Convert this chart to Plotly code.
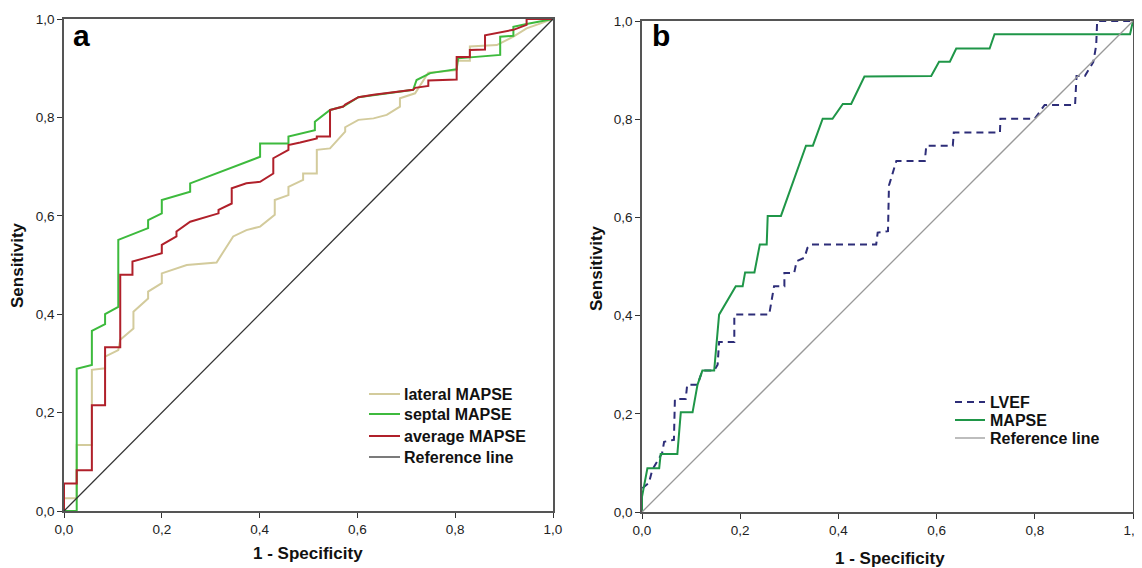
import plotly.graph_objects as go

# ---------------- data ----------------
tick_vals = [0, 0.2, 0.4, 0.6, 0.8, 1.0]
tick_text = ["0,0", "0,2", "0,4", "0,6", "0,8", "1,0"]

# Panel a
lateral_x = [0, 0, 0.026, 0.026, 0.057, 0.057, 0.084, 0.084, 0.111, 0.115, 0.142, 0.142, 0.172, 0.172,
             0.2, 0.2, 0.251, 0.312, 0.326, 0.346, 0.373, 0.401, 0.431, 0.431, 0.459, 0.459, 0.489, 0.489,
             0.517, 0.517, 0.544, 0.575, 0.575, 0.602, 0.633, 0.66, 0.687, 0.687, 0.718, 0.745, 0.803,
             0.803, 0.83, 0.83, 0.885, 0.919, 0.946, 0.973, 1.0]
lateral_y = [0, 0.026, 0.026, 0.134, 0.134, 0.287, 0.29, 0.314, 0.327, 0.348, 0.371, 0.405, 0.432, 0.446,
             0.463, 0.483, 0.5, 0.505, 0.527, 0.558, 0.571, 0.578, 0.602, 0.632, 0.642, 0.659, 0.673, 0.686,
             0.686, 0.734, 0.737, 0.771, 0.78, 0.795, 0.798, 0.805, 0.822, 0.839, 0.849, 0.891, 0.896,
             0.915, 0.915, 0.944, 0.947, 0.964, 0.981, 0.991, 1.0]

septal_x = [0, 0.026, 0.026, 0.057, 0.057, 0.084, 0.084, 0.111, 0.111, 0.172, 0.172, 0.2, 0.2, 0.258,
            0.258, 0.401, 0.401, 0.459, 0.459, 0.503, 0.513, 0.513, 0.544, 0.571, 0.602, 0.714, 0.721,
            0.749, 0.803, 0.806, 0.892, 0.892, 0.919, 0.919, 0.946, 1.0]
septal_y = [0, 0, 0.289, 0.297, 0.366, 0.38, 0.40, 0.415, 0.551, 0.575, 0.591, 0.605, 0.632, 0.649,
            0.666, 0.72, 0.747, 0.747, 0.761, 0.771, 0.774, 0.791, 0.815, 0.822, 0.841, 0.856, 0.876,
            0.89, 0.898, 0.92, 0.927, 0.964, 0.966, 0.984, 0.99, 1.0]

average_x = [0, 0, 0.026, 0.026, 0.057, 0.057, 0.084, 0.084, 0.115, 0.115, 0.14, 0.14, 0.176, 0.2, 0.2,
             0.23, 0.23, 0.258, 0.316, 0.316, 0.343, 0.343, 0.373, 0.401, 0.428, 0.428, 0.459, 0.459,
             0.483, 0.517, 0.517, 0.544, 0.544, 0.571, 0.575, 0.602, 0.633, 0.714, 0.718, 0.745, 0.745,
             0.803, 0.803, 0.83, 0.83, 0.861, 0.861, 0.919, 0.946, 0.946, 1.0]
average_y = [0, 0.056, 0.056, 0.083, 0.083, 0.215, 0.215, 0.333, 0.333, 0.48, 0.48, 0.507, 0.517, 0.524,
             0.541, 0.558, 0.568, 0.588, 0.605, 0.612, 0.625, 0.656, 0.666, 0.669, 0.686, 0.717, 0.734,
             0.744, 0.749, 0.757, 0.761, 0.761, 0.815, 0.822, 0.826, 0.841, 0.846, 0.856, 0.86, 0.864,
             0.875, 0.877, 0.923, 0.923, 0.937, 0.938, 0.967, 0.978, 0.988, 1.0, 1.0]

# Panel b
mapse_x = [0, 0, 0.011, 0.035, 0.038, 0.072, 0.079, 0.103, 0.113, 0.123, 0.147, 0.157, 0.191, 0.205,
           0.21, 0.229, 0.24, 0.254, 0.256, 0.283, 0.334, 0.348, 0.368, 0.388, 0.409, 0.426, 0.453,
           0.589, 0.605, 0.627, 0.64, 0.708, 0.718, 0.994, 1.0]
mapse_y = [0, 0.031, 0.089, 0.089, 0.118, 0.118, 0.203, 0.203, 0.259, 0.288, 0.288, 0.402, 0.46, 0.46,
           0.488, 0.488, 0.545, 0.545, 0.603, 0.603, 0.746, 0.746, 0.801, 0.801, 0.831, 0.831, 0.887,
           0.888, 0.917, 0.917, 0.944, 0.944, 0.973, 0.973, 1.0]

lvef_x = [0, 0, 0.014, 0.021, 0.041, 0.045, 0.065, 0.067, 0.089, 0.092, 0.113, 0.123, 0.147, 0.154,
          0.157, 0.188, 0.188, 0.259, 0.269, 0.29, 0.29, 0.31, 0.315, 0.331, 0.337, 0.344, 0.477, 0.48,
          0.501, 0.503, 0.518, 0.576, 0.579, 0.633, 0.635, 0.729, 0.73, 0.8, 0.82, 0.882, 0.885, 0.902,
          0.919, 0.925, 0.927, 1.0]
lvef_y = [0, 0.048, 0.059, 0.086, 0.12, 0.143, 0.147, 0.23, 0.23, 0.259, 0.259, 0.288, 0.288, 0.3,
          0.346, 0.346, 0.402, 0.402, 0.46, 0.46, 0.487, 0.487, 0.511, 0.518, 0.538, 0.545, 0.545, 0.569,
          0.572, 0.665, 0.715, 0.715, 0.746, 0.746, 0.773, 0.773, 0.801, 0.801, 0.829, 0.829, 0.888,
          0.888, 0.916, 0.95, 1.0, 1.0]

ref_x = [0, 1]
ref_y = [0, 1]

# ---------------- figure ----------------
# the page body has an 8px margin, so the figure is drawn 8px in from the top-left corner
OFF = 8
W, H = 1142 - OFF, 568 - OFF
FONT = "Arial, Liberation Sans, sans-serif"


def px_x(p):
    # p: x position in the 1142-wide screenshot
    return (p - OFF) / W


def px_y(p):
    # p: y position in the 568-high screenshot
    return 1 - (p - OFF) / H


series = [
    # name, x, y, colour, width, dash, panel
    ("lateral MAPSE", lateral_x, lateral_y, "#d3cb9c", 2, "solid", "a"),
    ("septal MAPSE", septal_x, septal_y, "#3dba3d", 2, "solid", "a"),
    ("average MAPSE", average_x, average_y, "#b0202a", 2, "solid", "a"),
    ("Reference line", ref_x, ref_y, "#333333", 1.3, "solid", "a"),
    ("LVEF", lvef_x, lvef_y, "#2d2d78", 2, "7px,5px", "b"),
    ("MAPSE", mapse_x, mapse_y, "#1f9648", 2, "solid", "b"),
    ("Reference line", ref_x, ref_y, "#999999", 1.3, "solid", "b"),
]

fig = go.Figure()
for name, xs, ys, col, lw, dash, panel in series:
    fig.add_trace(go.Scatter(x=xs, y=ys, mode="lines", name=name,
                             line=dict(color=col, width=lw, dash=dash),
                             xaxis="x" if panel == "a" else "x2",
                             yaxis="y" if panel == "a" else "y2",
                             showlegend=False))

axis_common = dict(range=[0, 1], tickvals=tick_vals, ticktext=tick_text, ticks="outside", ticklen=5,
                   tickwidth=1.3, tickcolor="#333", showline=True, linecolor="#555", linewidth=1.5,
                   mirror=True, showgrid=False, zeroline=False, automargin=False,
                   ticklabeloverflow="allow",
                   tickfont=dict(family=FONT, size=13.5, color="#222"))

fig.update_layout(
    width=W, height=H,
    margin=dict(l=0, r=0, t=0, b=0, pad=0, autoexpand=False),
    paper_bgcolor="white", plot_bgcolor="white",
    font=dict(family=FONT),
    xaxis=dict(domain=[px_x(64), px_x(553)], anchor="y", **axis_common),
    yaxis=dict(domain=[px_y(511), px_y(19)], anchor="x", **axis_common),
    xaxis2=dict(domain=[px_x(642), px_x(1133)], anchor="y2", **axis_common),
    yaxis2=dict(domain=[px_y(512), px_y(21)], anchor="x2", **axis_common),
    showlegend=False,
)

# legends (drawn as line samples + text so the row spacing matches the original)
legend_rows_a = [394, 414, 436, 457]
legend_rows_b = [402, 420, 438]
shapes = []
annotations = []
leg_a = [s for s in series if s[6] == "a"]
leg_b = [s for s in series if s[6] == "b"]
for (name, _, _, col, lw, dash, _), ry in zip(leg_a, legend_rows_a):
    shapes.append(dict(type="line", xref="paper", yref="paper", x0=px_x(369), x1=px_x(400),
                       y0=px_y(ry), y1=px_y(ry), line=dict(color=col, width=lw, dash=dash)))
    annotations.append(dict(text="<b>%s</b>" % name, x=px_x(402), y=px_y(ry), xref="paper", yref="paper",
                            xanchor="left", yanchor="middle", showarrow=False,
                            font=dict(family=FONT, size=16, color="#111")))
for (name, _, _, col, lw, dash, _), ry in zip(leg_b, legend_rows_b):
    shapes.append(dict(type="line", xref="paper", yref="paper", x0=px_x(955), x1=px_x(985),
                       y0=px_y(ry), y1=px_y(ry), line=dict(color=col, width=lw, dash=dash)))
    annotations.append(dict(text="<b>%s</b>" % name, x=px_x(988), y=px_y(ry), xref="paper", yref="paper",
                            xanchor="left", yanchor="middle", showarrow=False,
                            font=dict(family=FONT, size=16, color="#111")))

annotations += [
    dict(text="<b>a</b>", x=px_x(71), y=px_y(35), xref="paper", yref="paper", xanchor="left",
         yanchor="middle", showarrow=False, font=dict(family=FONT, size=30, color="#000")),
    dict(text="<b>b</b>", x=px_x(650), y=px_y(35), xref="paper", yref="paper", xanchor="left",
         yanchor="middle", showarrow=False, font=dict(family=FONT, size=30, color="#000")),
    dict(text="<b>Sensitivity</b>", x=px_x(18), y=px_y(265), xref="paper", yref="paper",
         xanchor="center", yanchor="middle",
         textangle=-90, showarrow=False, font=dict(family=FONT, size=17, color="#111")),
    dict(text="<b>Sensitivity</b>", x=px_x(596), y=px_y(268), xref="paper", yref="paper",
         xanchor="center", yanchor="middle",
         textangle=-90, showarrow=False, font=dict(family=FONT, size=17, color="#111")),
    dict(text="<b>1 - Specificity</b>", x=px_x(308), y=px_y(553), xref="paper", yref="paper",
         xanchor="center", yanchor="middle",
         showarrow=False, font=dict(family=FONT, size=17, color="#111")),
    dict(text="<b>1 - Specificity</b>", x=px_x(890), y=px_y(558), xref="paper", yref="paper",
         xanchor="center", yanchor="middle",
         showarrow=False, font=dict(family=FONT, size=17, color="#111")),
]
fig.update_layout(annotations=annotations, shapes=shapes)

fig.write_html("out.html")
